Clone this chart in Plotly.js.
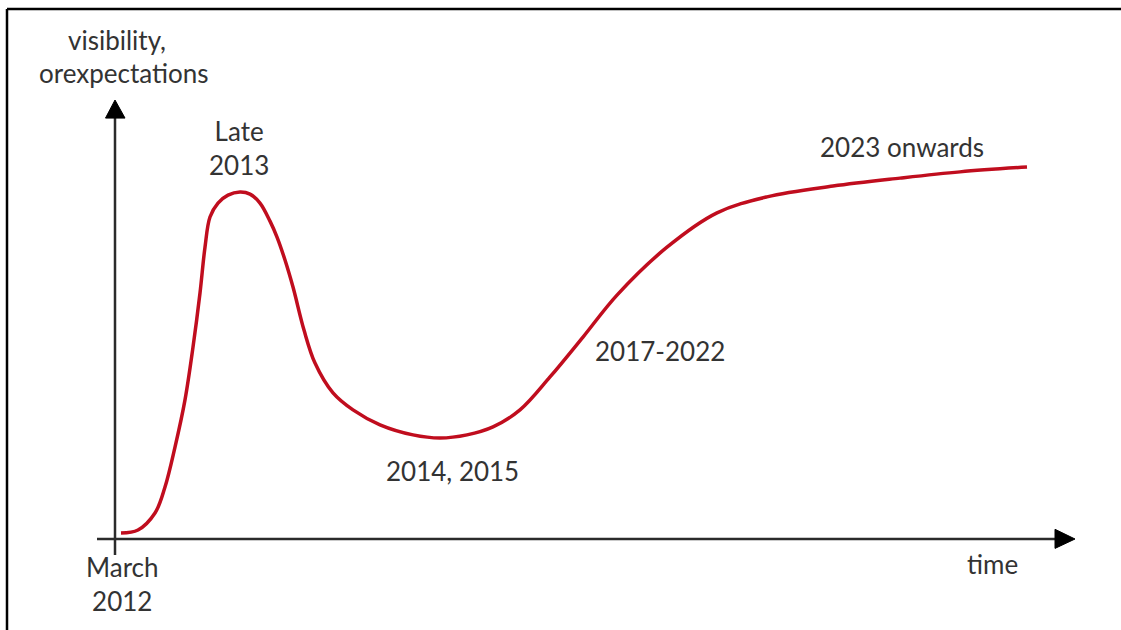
<!DOCTYPE html>
<html>
<head>
<meta charset="utf-8">
<script src="https://cdn.plot.ly/plotly-3.0.1.min.js"></script>
<style>html,body{margin:0;padding:0;background:#fff;}#chart{width:1121px;height:630px;}</style>
</head>
<body>
<div id="chart"></div>
<script>
// Hype-cycle curve: time (arbitrary units) vs visibility/expectations (peak = 100)
const time = [0.6, 2.3, 4.0, 5.0, 6.0, 7.0, 7.8, 8.5, 9.0, 9.5, 10.3, 11.3, 12.5, 13.5, 14.5, 15.5, 16.2, 17.0, 17.8, 18.9, 20.0, 21.8, 23.8, 26.5, 29.8, 32.5, 35.2, 37.8, 40.5, 43.5, 46.8, 50.2, 55.2, 60.2, 65.2, 71.8, 78.5, 84.5, 91.2];
const visibility = [1.7, 2.6, 7.5, 15.0, 26.5, 40.1, 55.3, 70.9, 84.1, 92.8, 96.8, 99.1, 100, 99.4, 96.8, 91.6, 87.0, 80.4, 72.6, 60.2, 50.7, 42.1, 37.2, 32.9, 30.0, 29.1, 30.0, 32.3, 37.2, 46.7, 58.2, 70.3, 84.1, 94.0, 98.6, 101.7, 104.0, 105.8, 107.2];

const phaseLabels = ["Late<br>2013", "2014, 2015", "2017-2022", "2023 onwards"];
const axisLabels = ["visibility,", "orexpectations", "time"];
const startLabel = "March<br>2012";

const FONT = {family: "Lato, 'Open Sans', sans-serif", size: 26, color: "#333333"};
const AX = "#2b2b2b";

const trace = {
  x: time, y: visibility, type: "scatter", mode: "lines",
  line: {color: "#c00d1e", width: 3.5, shape: "spline", smoothing: 1.0},
  hoverinfo: "skip"
};

function ann(text, x, y) {
  return {text: text, x: x, y: y, xref: "x", yref: "y", showarrow: false,
          xanchor: "center", yanchor: "middle", font: FONT, align: "center"};
}

const layout = {
  width: 1121, height: 630,
  margin: {l: 0, r: 0, t: 0, b: 0},
  paper_bgcolor: "#ffffff", plot_bgcolor: "#ffffff",
  showlegend: false,
  xaxis: {range: [-11.5, 100.6], visible: false, fixedrange: true},
  yaxis: {range: [-26.22, 155.33], visible: false, fixedrange: true},
  shapes: [
    // frame
    {type: "line", xref: "paper", yref: "paper", x0: 7/1121, x1: 1, y0: 1 - 9/630, y1: 1 - 9/630, line: {color: "#000", width: 2.5}},
    {type: "line", xref: "paper", yref: "paper", x0: 7/1121, x1: 7/1121, y0: 0, y1: 1 - 9/630, line: {color: "#000", width: 2.5}},
    // y axis
    {type: "line", xref: "x", yref: "y", x0: 0, x1: 0, y0: -4.6, y1: 121.5, line: {color: AX, width: 2.5}},
    {type: "path", xref: "x", yref: "y", path: "M -0.95 121.3 L 1.0 121.3 L 0 126.5 Z", fillcolor: "#000", line: {color: "#000", width: 1}},
    // x axis
    {type: "line", xref: "x", yref: "y", x0: -1.8, x1: 94.2, y0: 0, y1: 0, line: {color: AX, width: 2.5}},
    {type: "path", xref: "x", yref: "y", path: "M 94 2.8 L 94 -2.7 L 96 0 Z", fillcolor: "#000", line: {color: "#000", width: 1}}
  ],
  annotations: [
    ann(axisLabels[0], 0.2, 143.8),
    ann(axisLabels[1], 0.9, 134.3),
    ann(axisLabels[2], 87.7, -7.2),
    ann(startLabel, 0.7, -13.0),
    ann(phaseLabels[0], 12.4, 112.7),
    ann(phaseLabels[1], 33.7, 19.6),
    ann(phaseLabels[2], 54.5, 54.2),
    ann(phaseLabels[3], 78.7, 113.0)
  ]
};

Plotly.newPlot("chart", [trace], layout, {displayModeBar: false, staticPlot: true});
</script>
</body>
</html>
